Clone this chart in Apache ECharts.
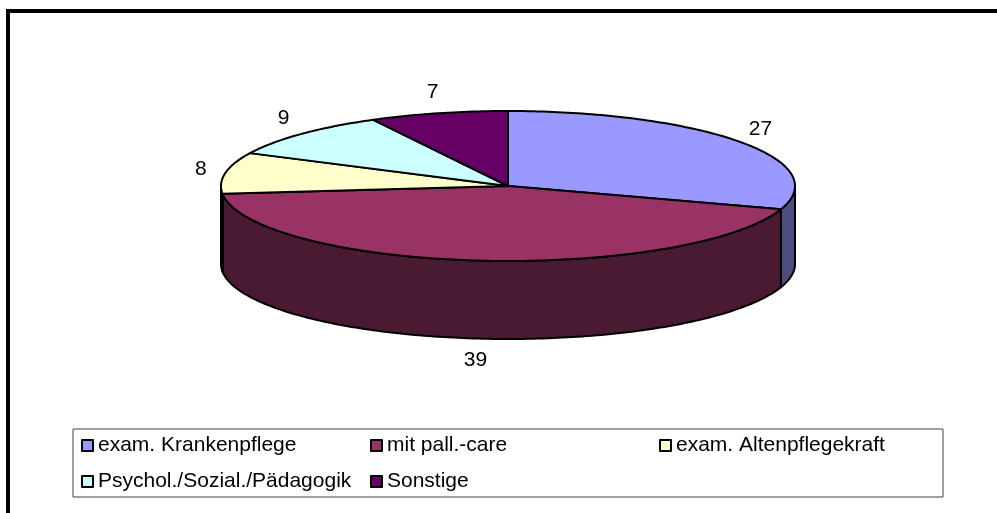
<!DOCTYPE html>
<html>
<head>
<meta charset="utf-8">
<script src="https://cdn.jsdelivr.net/npm/echarts@6/dist/echarts.min.js"></script>
<style>
  html, body { margin: 0; padding: 0; background: #ffffff; }
  #chart { width: 997px; height: 513px; }
</style>
</head>
<body>
<div id="chart"></div>
<script>
// Staff qualifications
const categories = [
  'exam. Krankenpflege',
  'mit pall.-care',
  'exam. Altenpflegekraft',
  'Psychol./Sozial./Pädagogik',
  'Sonstige'
];
const values = [27, 39, 8, 9, 7];
const topColors = ['#9999FF', '#993366', '#FFFFCC', '#CCFFFF', '#660066'];
const sideColors = ['#4D4D80', '#4A1A33', '#80806A', '#6A8080', '#330033'];

// Pie layout (tilted disc)
const CX = 508, CY = 186, RX = 287, RY = 75, DEPTH = 78;
const LABEL_PAD_X = 25, LABEL_PAD_Y = 22;
const FONT = '"Liberation Sans", Arial, sans-serif';

const total = values.reduce((a, b) => a + b, 0);
const starts = [];
values.reduce((acc, v, i) => { starts[i] = acc; return acc + v; }, 0);

// angle measured clockwise from 12 o'clock, in degrees
function pt(deg, dy) {
  const r = deg * Math.PI / 180;
  return [CX + RX * Math.sin(r), CY - RY * Math.cos(r) + (dy || 0)];
}
function arc(a, b, dy) {
  const pts = [];
  const n = Math.max(2, Math.ceil(Math.abs(b - a)));
  for (let k = 0; k <= n; k++) pts.push(pt(a + (b - a) * k / n, dy));
  return pts;
}

function renderItem(params, api) {
  const i = params.dataIndex;
  const v = api.value(0);
  const a = starts[i] / total * 360;
  const b = a + v / total * 360;
  const children = [];
  const stroke = { stroke: '#000', lineWidth: 2, lineJoin: 'round' };

  // visible outer wall: front half of the disc (90..270 deg)
  const sa = Math.max(a, 90), sb = Math.min(b, 270);
  if (sb > sa) {
    const upper = arc(sa, sb, 0);
    const lower = arc(sb, sa, DEPTH);
    children.push({
      type: 'polygon',
      shape: { points: upper.concat(lower) },
      style: Object.assign({ fill: sideColors[i] }, stroke)
    });
  }

  // top face
  children.push({
    type: 'polygon',
    shape: { points: [[CX, CY]].concat(arc(a, b, 0)) },
    style: Object.assign({ fill: topColors[i] }, stroke)
  });

  // value label outside the slice
  const mid = (a + b) / 2;
  const r = mid * Math.PI / 180;
  const lowerHalf = Math.cos(r) < 0;
  const lx = CX + (RX + LABEL_PAD_X) * Math.sin(r);
  const ly = CY - (RY + LABEL_PAD_Y) * Math.cos(r) + (lowerHalf ? DEPTH : 0);
  children.push({
    type: 'text',
    style: {
      x: lx, y: ly,
      text: String(v),
      fill: '#000',
      font: '21px ' + FONT,
      align: 'center',
      verticalAlign: 'middle'
    }
  });

  return { type: 'group', children: children };
}

const chart = echarts.init(document.getElementById('chart'), null, { renderer: 'canvas' });

chart.setOption({
  backgroundColor: '#ffffff',
  animation: false,
  textStyle: { fontFamily: FONT },
  graphic: [{
    type: 'rect',
    shape: { x: 8, y: 11, width: 1200, height: 700 },
    style: { fill: null, stroke: '#000', lineWidth: 4 },
    silent: true
  }],
  legend: {
    left: 73,
    top: 429,
    width: 880,
    orient: 'horizontal',
    padding: [2, 2, 1, 8],
    itemGap: 7,
    itemWidth: 11,
    itemHeight: 11,
    icon: 'rect',
    borderColor: '#404040',
    borderWidth: 1,
    selectedMode: false,
    itemStyle: { borderColor: '#000', borderWidth: 2 },
    textStyle: {
      color: '#000',
      fontSize: 21,
      lineHeight: 29,
      width: 265,
      overflow: 'none',
      fontFamily: FONT
    },
    data: categories
  },
  series: [
    {
      // carries the category colours for the legend; the disc itself is the custom series
      type: 'pie',
      radius: [0, 0],
      center: [CX, CY],
      silent: true,
      label: { show: false },
      labelLine: { show: false },
      data: categories.map((name, i) => ({
        name: name,
        value: values[i],
        itemStyle: { color: topColors[i] }
      }))
    },
    {
      type: 'custom',
      coordinateSystem: 'none',
      silent: true,
      renderItem: renderItem,
      data: values.map((v, i) => ({ name: categories[i], value: [v] }))
    }
  ]
});
</script>
</body>
</html>
